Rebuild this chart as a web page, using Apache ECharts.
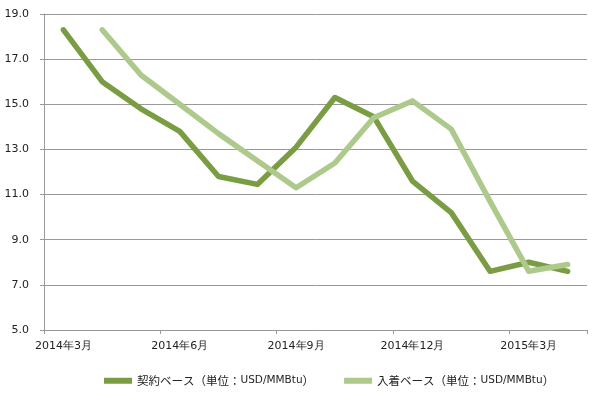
<!DOCTYPE html>
<html><head><meta charset="utf-8">
<script src="https://cdn.jsdelivr.net/npm/echarts@6/dist/echarts.min.js"></script>
<style>html,body{margin:0;padding:0;background:#fff}#c{width:600px;height:397px}</style>
</head><body><div id="c"></div>
<script>
const categories = ['2014年3月','2014年4月','2014年5月','2014年6月','2014年7月','2014年8月','2014年9月','2014年10月','2014年11月','2014年12月','2015年1月','2015年2月','2015年3月','2015年4月'];
const contractBase = [18.3,16.0,14.8,13.8,11.8,11.45,13.1,15.3,14.45,11.6,10.2,7.6,8.0,7.6];
const arrivalBase = [null,18.3,16.3,15.0,13.7,12.5,11.3,12.4,14.4,15.15,13.9,10.7,7.6,7.9];
const seriesNames = ['契約ベース（単位：USD/MMBtu）','入着ベース（単位：USD/MMBtu）'];
const yTicks = {min:5, max:19, interval:2};

const chart = echarts.init(document.getElementById('c'), null, {renderer:'canvas'});
const font = '"DejaVu Sans", Verdana, sans-serif';
chart.setOption({
  animation:false,
  backgroundColor:'#fff',
  grid:{left:44, right:13, top:14, bottom:67},
  legend:{
    top:375, left:104, padding:0, itemWidth:28, itemHeight:6, itemGap:30,
    icon:'rect',
    data:seriesNames,
    formatter:function(n){
      const i = n.indexOf('USD');
      return '{a|'+n.slice(0,i)+'}{b|'+n.slice(i, n.length-1)+'}{c|）}';
    },
    textStyle:{
      color:'#222',
      rich:{
        a:{fontSize:11.5, fontFamily:'"Noto Sans CJK JP", sans-serif', color:'#222'},
        b:{fontSize:10.5, fontFamily:font, color:'#222'},
        c:{fontSize:11.5, width:7, fontFamily:'"Noto Sans CJK JP", sans-serif', color:'#222'}
      }
    }
  },
  xAxis:{
    type:'category', data:categories, boundaryGap:true,
    axisLine:{lineStyle:{color:'#999', width:1}},
    axisTick:{show:true, interval:2, length:4, lineStyle:{color:'#999'}},
    axisLabel:{interval:2, color:'#222', fontSize:11, fontFamily:font, margin:11}
  },
  yAxis:{
    type:'value', min:yTicks.min, max:yTicks.max, interval:yTicks.interval,
    axisLine:{show:true, lineStyle:{color:'#999', width:1}},
    axisTick:{show:true, length:4, lineStyle:{color:'#999'}},
    axisLabel:{formatter:v=>v.toFixed(1), color:'#222', fontSize:11, fontFamily:font, margin:15},
    splitLine:{lineStyle:{color:'#999', width:1}}
  },
  series:[
    {name:seriesNames[0], type:'line', data:contractBase, symbol:'none',
     lineStyle:{color:'#7a9d44', width:5.5, cap:'round', join:'round'}, itemStyle:{color:'#7a9d44'}},
    {name:seriesNames[1], type:'line', data:arrivalBase, symbol:'none',
     lineStyle:{color:'#adc98c', width:5.5, cap:'round', join:'round'}, itemStyle:{color:'#adc98c'}}
  ]
});
</script></body></html>
